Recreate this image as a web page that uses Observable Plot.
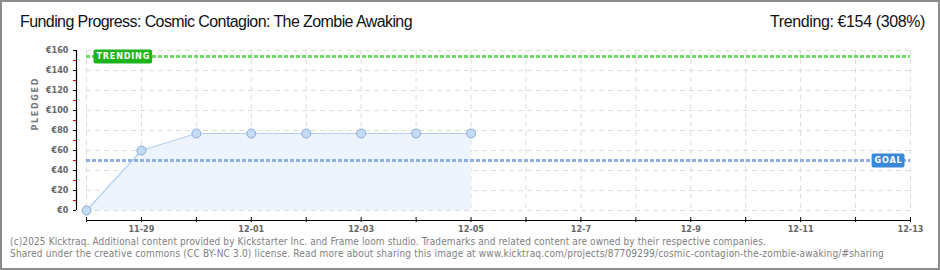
<!DOCTYPE html>
<html>
<head>
<meta charset="utf-8">
<script src="https://cdn.jsdelivr.net/npm/d3@7"></script>
<script src="https://cdn.jsdelivr.net/npm/@observablehq/plot@0.6"></script>
<style>
  body { margin: 0; background: #fff; }
  #wrap { position: relative; width: 940px; height: 270px; overflow: hidden; background: #fff; }
  #wrap svg { position: absolute; left: 0; top: 0; }
  #frame { position: absolute; left: 0; top: 0; width: 940px; height: 270px; box-sizing: border-box;
           border: 2px solid #8c8c8c; pointer-events: none; }
  .hdr { position: absolute; top: 12px; font-family: "Liberation Sans Narrow", sans-serif; font-size: 16px;
         color: #111; white-space: nowrap; line-height: 20px; }
  #title { left: 20px; }
  #trendtxt { right: 15px; }
  #foot { position: absolute; left: 10px; top: 236px; font-family: "DejaVu Sans Condensed", sans-serif;
          font-size: 10px; line-height: 12px; color: #808080; white-space: nowrap; }
</style>
</head>
<body>
<div id="wrap">
  <div id="title" class="hdr">Funding Progress: Cosmic Contagion: The Zombie Awaking</div>
  <div id="trendtxt" class="hdr">Trending: €154 (308%)</div>
  <div id="foot">
    <div id="f1">(c)2025 Kicktraq. Additional content provided by Kickstarter Inc. and Frame loom studio. Trademarks and related content are owned by their respective companies.</div>
    <div id="f2">Shared under the creative commons (CC BY-NC 3.0) license. Read more about sharing this image at www.kicktraq.com/projects/87709299/cosmic-contagion-the-zombie-awaking/#sharing</div>
  </div>
  <div id="frame"></div>
</div>
<script>
// ---- data ----
const dates   = ["2025-11-28", "2025-11-29", "2025-11-30", "2025-12-01", "2025-12-02", "2025-12-03", "2025-12-04", "2025-12-05"];
const pledged = [0, 60, 77, 77, 77, 77, 77, 77];
const goal = 50;
const trending = 154;
const axisStart = "2025-11-28";
const axisEnd   = "2025-12-13";
const xLabelDates = ["2025-11-29", "2025-12-01", "2025-12-03", "2025-12-05", "2025-12-07", "2025-12-09", "2025-12-11", "2025-12-13"];
const xLabels     = ["11-29", "12-01", "12-03", "12-05", "12-7", "12-9", "12-11", "12-13"];
const yTicks      = [0, 20, 40, 60, 80, 100, 120, 140, 160];
const yLabels     = ["€0", "€20", "€40", "€60", "€80", "€100", "€120", "€140", "€160"];
const yMinor      = [10, 30, 50, 70, 90, 110, 130, 150];
const yTitle = "PLEDGED";
const trendLabel = "TRENDING";
const goalLabel = "GOAL";

// ---- build ----
const parse = d3.utcParse("%Y-%m-%d");
const data = dates.map((d, i) => ({date: parse(d), value: pledged[i]}));
const days = d3.utcDay.range(parse(axisStart), d3.utcDay.offset(parse(axisEnd), 1));
const xLabelMap = new Map(xLabelDates.map((d, i) => [+parse(d), xLabels[i]]));
const yLabelMap = new Map(yTicks.map((v, i) => [v, yLabels[i]]));

const chart = Plot.plot({
  width: 940, height: 270,
  marginLeft: 86, marginRight: 30, marginTop: 50, marginBottom: 60,
  style: {fontFamily: "'DejaVu Sans Condensed', sans-serif", fontSize: "9px", background: "transparent", overflow: "visible"},
  x: {type: "utc", domain: [parse(axisStart), parse(axisEnd)], label: null},
  y: {domain: [0, 160], label: null},
  marks: [
    Plot.gridX(days, {stroke: "#dcdcdc", strokeOpacity: 1, strokeDasharray: "5,4"}),
    Plot.gridY(yTicks, {stroke: "#dcdcdc", strokeOpacity: 1, strokeDasharray: "5,4"}),
    Plot.areaY(data, {x: "date", y: "value", fill: "#edf4fd"}),
    Plot.lineY(data, {x: "date", y: "value", stroke: "#b3d0f0", strokeWidth: 1.2}),
    Plot.ruleY([trending], {stroke: "#72d867", strokeWidth: 3, strokeDasharray: "4,2"}),
    Plot.ruleY([goal], {stroke: "#8db2e2", strokeWidth: 3, strokeDasharray: "4,2"}),
    Plot.dot(data, {x: "date", y: "value", r: 4.5, fill: "#c4dbf5", stroke: "#8eaad0", strokeWidth: 1}),
    // axes
    Plot.ruleX([parse(axisStart)], {y1: 0, y2: 160, dx: -10, stroke: "#000", strokeWidth: 1.2}),
    Plot.ruleY([0], {dy: 10, stroke: "#000", strokeWidth: 1.2}),
    Plot.axisY(yMinor, {tickSize: 3, dx: -10, stroke: "#e00000", fill: "none", label: null, tickFormat: () => ""}),
    Plot.axisY(yTicks, {tickSize: 3, dx: -10, tickPadding: 5, stroke: "#000", fill: "#666", label: null,
                        fontWeight: "bold", tickFormat: d => yLabelMap.get(d)}),
    Plot.axisX(days, {tickSize: 5, dy: 7, tickPadding: 3, stroke: "#000", fill: "#666", label: null,
                      fontWeight: "bold", tickFormat: d => xLabelMap.get(+d) ?? ""}),
    Plot.text([yTitle], {frameAnchor: "left", rotate: -90, dx: -51, fill: "#777", fontSize: 9,
                         fontWeight: "bold", className: "ytitle"}),
    Plot.text([trendLabel], {y: () => trending, frameAnchor: "left", textAnchor: "start", dx: 10,
                             fill: "#fff", fontSize: 9, fontWeight: "bold", className: "lbltrend"}),
    Plot.text([goalLabel], {y: () => goal, frameAnchor: "right", textAnchor: "end", dx: -8,
                            fill: "#fff", fontSize: 9, fontWeight: "bold", className: "lblgoal"})
  ]
});
document.getElementById("wrap").insertBefore(chart, document.getElementById("frame"));

// letter spacing for the small caps titles
chart.querySelectorAll(".ytitle text").forEach(t => t.style.letterSpacing = "1.6px");
chart.querySelectorAll(".lbltrend text, .lblgoal text").forEach(t => t.style.letterSpacing = "0.8px");

// label backgrounds
for (const [cls, color] of [["lbltrend", "#1eb41e"], ["lblgoal", "#3a88d8"]]) {
  chart.querySelectorAll(`.${cls} text`).forEach(t => {
    const b = t.getBBox();
    const r = document.createElementNS("http://www.w3.org/2000/svg", "rect");
    r.setAttribute("x", b.x - 3);
    r.setAttribute("width", b.width + 5);
    r.setAttribute("y", b.y + b.height / 2 - 7);
    r.setAttribute("height", 14);
    r.setAttribute("rx", 2);
    r.setAttribute("fill", color);
    if (t.getAttribute("transform")) r.setAttribute("transform", t.getAttribute("transform"));
    t.parentNode.insertBefore(r, t);
  });
}

// fit header/footer text widths via letter spacing
function fit(id, target) {
  const el = document.getElementById(id);
  const w = el.getBoundingClientRect().width;
  const n = el.textContent.length;
  el.style.letterSpacing = ((target - w) / n) + "px";
}
["f1", "f2"].forEach(id => document.getElementById(id).style.display = "inline-block");
fit("title", 392);
fit("trendtxt", 155);
fit("f1", 756);
fit("f2", 874);
["f1", "f2"].forEach(id => document.getElementById(id).style.display = "block");
</script>
</body>
</html>
